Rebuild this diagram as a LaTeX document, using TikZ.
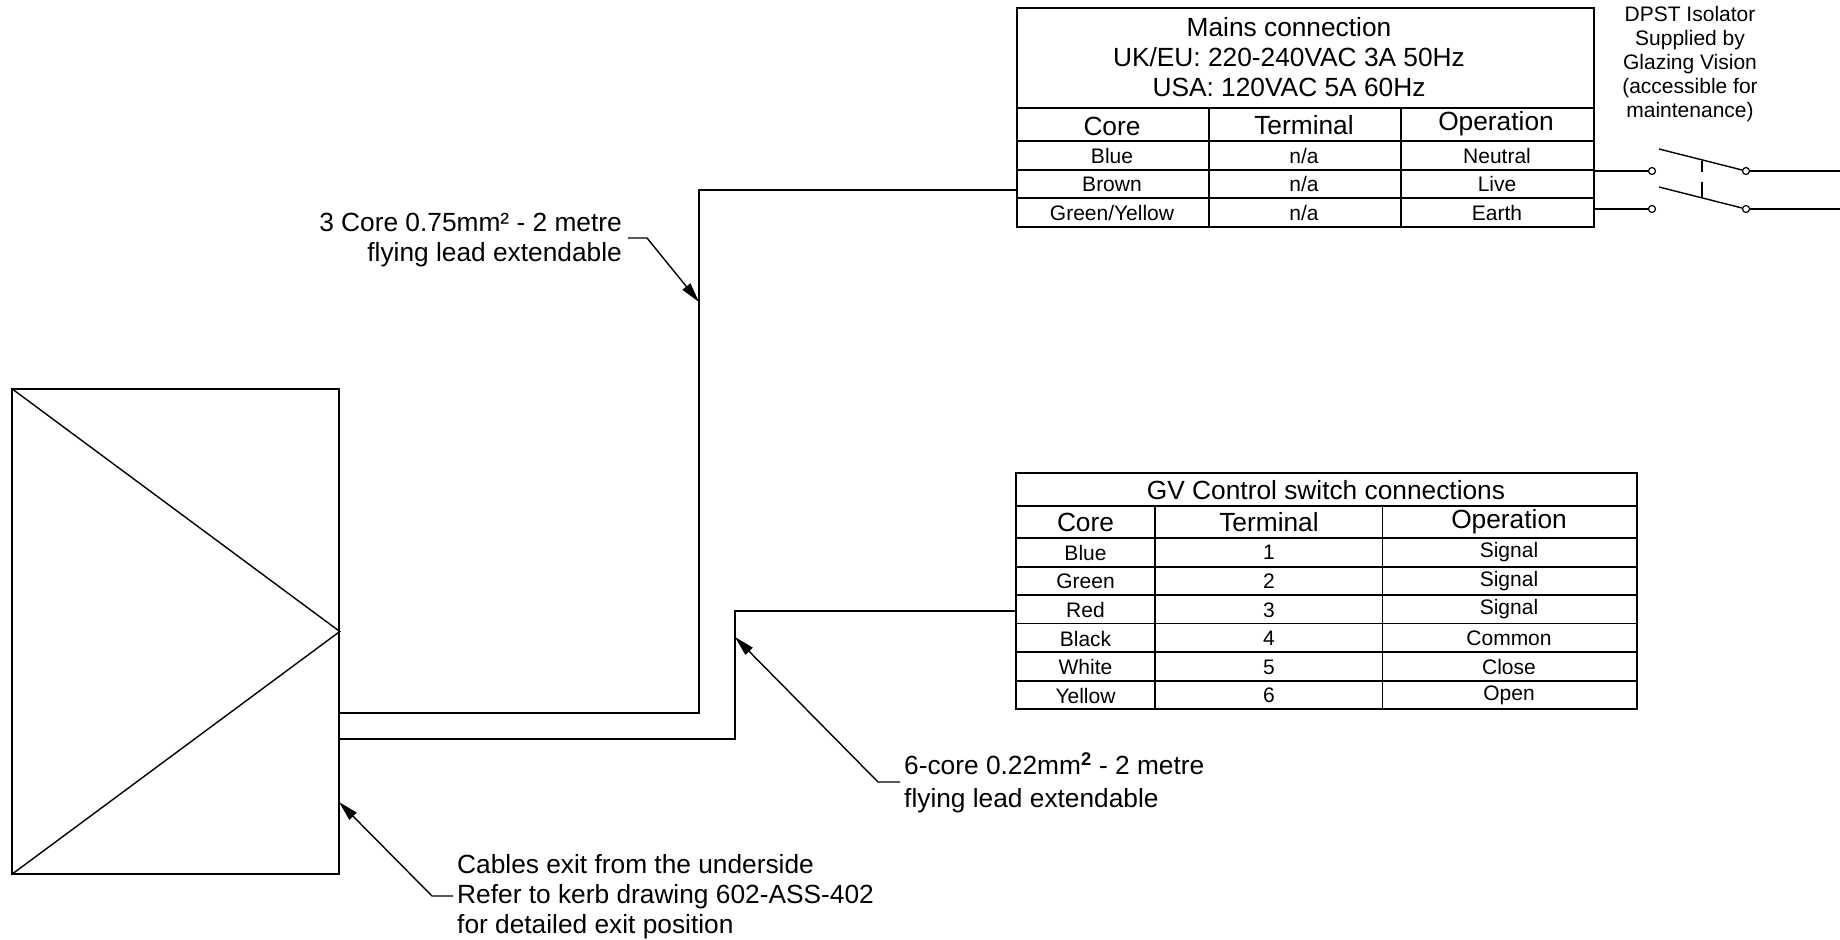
\documentclass[tikz,border=0pt]{standalone}
\usepackage{fontspec}
\setmainfont{Liberation Sans}
\usetikzlibrary{arrows.meta}
\begin{document}
\begin{tikzpicture}[x=1pt,y=-1pt]
\tikzstyle{every node}+=[inner sep=0pt]
\tikzstyle{bigtxt}=[font=\fontsize{26.3}{30}\selectfont,align=center]
\tikzstyle{smalltxt}=[font=\fontsize{21}{24}\selectfont,align=center]
\tikzstyle{wire}=[black,line width=1.8pt]
\tikzstyle{grid}=[black,line width=1.6pt]
\tikzstyle{leader}=[black,line width=1.4pt,-{Triangle[length=20pt,width=10pt]}]
\tikzstyle{contact}=[draw=black,line width=1.2pt,circle,minimum size=7pt,fill=white]
\useasboundingbox (0,0) rectangle (1840,940);
% fitting
\node [draw=black,line width=1.5pt,minimum width=327pt,minimum height=485pt] (fitting) at (175.5,631.5) {};
\draw [black,line width=1.4pt] (fitting.north west) -- (fitting.east) -- (fitting.south west);
\coordinate (exitA) at (339,712.7);
\coordinate (bendA) at (699,712.7);
\coordinate (topA) at (699,190);
\coordinate (mainsin) at (1017,190);
\coordinate (exitB) at (339,738.7);
\coordinate (bendB) at (735,738.7);
\coordinate (topB) at (735,610.7);
\coordinate (gvin) at (1016,610.7);
\draw [wire] (exitA) -- (bendA) -- (topA) -- (mainsin);
\draw [wire] (exitB) -- (bendB) -- (topB) -- (gvin);
% leaders
\coordinate (tipA) at (699,302);
\coordinate (kneeA) at (647,238);
\coordinate (startA) at (628,238);
\draw [leader] (startA) -- (kneeA) -- (tipA);
\node [bigtxt,align=right,anchor=east] (leadA) at (622,240) {3 Core 0.75mm² - 2 metre\\flying lead extendable};
\coordinate (tipB) at (735,637);
\coordinate (kneeB) at (878,782);
\coordinate (startB) at (900,782);
\draw [leader] (startB) -- (kneeB) -- (tipB);
\node [bigtxt,align=left,anchor=west,font=\fontsize{26.3}{33}\selectfont] (leadB) at (904,782.5) {6-core 0.22mm\textsuperscript{\textbf{2}} - 2 metre\\flying lead extendable};
\coordinate (tipC) at (339,802);
\coordinate (kneeC) at (432,896);
\coordinate (startC) at (453,896);
\draw [leader] (startC) -- (kneeC) -- (tipC);
\node [bigtxt,align=left,anchor=west] (leadC) at (457,897) {Cables exit from the underside\\Refer to kerb drawing 602-ASS-402\\for detailed exit position};
% mains table
\draw [grid] (1017,8) rectangle (1594,227);
\draw [grid] (1017,108) -- (1594,108);
\draw [grid] (1017,141) -- (1594,141);
\draw [grid] (1017,170) -- (1594,170);
\draw [grid] (1017,198) -- (1594,198);
\draw [grid] (1209,108) -- (1209,227);
\draw [grid] (1401,108) -- (1401,227);
\node [bigtxt] (mainstitle) at (1289,57) {Mains connection\\UK/EU: 220-240VAC 3A 50Hz\\USA: 120VAC 5A 60Hz};
\node [bigtxt] (mainscore) at (1112,126) {Core};
\node [bigtxt] (mainsterm) at (1304,125) {Terminal};
\node [bigtxt] (mainsop) at (1496,124) {Operation};
\node [smalltxt] (blue) at (1112,156) {Blue};
\node [smalltxt] (bluet) at (1304,156) {n/a};
\node [smalltxt] (blueo) at (1497,155.5) {Neutral};
\node [smalltxt] (brown) at (1112,184.5) {Brown};
\node [smalltxt] (brownt) at (1304,184) {n/a};
\node [smalltxt] (browno) at (1497,184) {Live};
\node [smalltxt] (greenyellow) at (1112,213) {Green/Yellow};
\node [smalltxt] (greenyellowt) at (1304,213) {n/a};
\node [smalltxt] (greenyellowo) at (1497,212.5) {Earth};
% isolator
\node [smalltxt] (isolator) at (1690,64.5) {DPST Isolator\\Supplied by\\Glazing Vision\\(accessible for\\maintenance)};
\coordinate (liveout) at (1594,171);
\coordinate (earthout) at (1594,209);
\coordinate (liveend) at (1840,171);
\coordinate (earthend) at (1840,209);
\node [contact] (liveL) at (1652,171) {};
\node [contact] (liveR) at (1746,171) {};
\node [contact] (earthL) at (1652,209) {};
\node [contact] (earthR) at (1746,209) {};
\draw [wire] (liveout) -- (liveL);
\draw [wire] (earthout) -- (earthL);
\draw [wire] (liveR) -- (liveend);
\draw [wire] (earthR) -- (earthend);
\coordinate (bladeA) at (1659,149);
\coordinate (bladeB) at (1659,187);
\draw [black,line width=1.4pt] (bladeA) -- (liveR);
\draw [black,line width=1.4pt] (bladeB) -- (earthR);
\draw [black,line width=1.2pt] (1702,161) -- (1702,172);
\draw [black,line width=1.2pt] (1702,182) -- (1702,197);
% gv table
\draw [grid] (1016,473) rectangle (1637,709);
\draw [grid] (1016,505.7) -- (1637,505.7);
\draw [grid] (1016,538) -- (1637,538);
\draw [grid] (1016,566.7) -- (1637,566.7);
\draw [grid] (1016,595) -- (1637,595);
\draw [grid] (1016,623.5) -- (1637,623.5);
\draw [grid] (1016,652) -- (1637,652);
\draw [grid] (1016,680.7) -- (1637,680.7);
\draw [grid] (1155,505.7) -- (1155,709);
\draw [grid] (1382.6,505.7) -- (1382.6,709);
\node [bigtxt] (gvtitle) at (1326,490) {GV Control switch connections};
\node [bigtxt] (gvcore) at (1085.5,522.7) {Core};
\node [bigtxt] (gvterm) at (1269,521.7) {Terminal};
\node [bigtxt] (gvop) at (1509,521.5) {Operation};
\node [smalltxt] (gvblue) at (1085.5,552.7) {Blue};
\node [smalltxt] (gvone) at (1269,552.7) {1};
\node [smalltxt] (gvsiga) at (1509,552) {Signal};
\node [smalltxt] (gvgreen) at (1085.5,581.5) {Green};
\node [smalltxt] (gvtwo) at (1269,581.5) {2};
\node [smalltxt] (gvsigb) at (1509,581) {Signal};
\node [smalltxt] (gvred) at (1085.5,610) {Red};
\node [smalltxt] (gvthree) at (1269,610) {3};
\node [smalltxt] (gvsigc) at (1509,609) {Signal};
\node [smalltxt] (gvblack) at (1085.5,638.7) {Black};
\node [smalltxt] (gvfour) at (1269,638.7) {4};
\node [smalltxt] (gvcommon) at (1509,638.7) {Common};
\node [smalltxt] (gvwhite) at (1085.5,667) {White};
\node [smalltxt] (gvfive) at (1269,667) {5};
\node [smalltxt] (gvclose) at (1509,667) {Close};
\node [smalltxt] (gvyellow) at (1085.5,695.7) {Yellow};
\node [smalltxt] (gvsix) at (1269,695.7) {6};
\node [smalltxt] (gvopen) at (1509,695) {Open};
\end{tikzpicture}
\end{document}
